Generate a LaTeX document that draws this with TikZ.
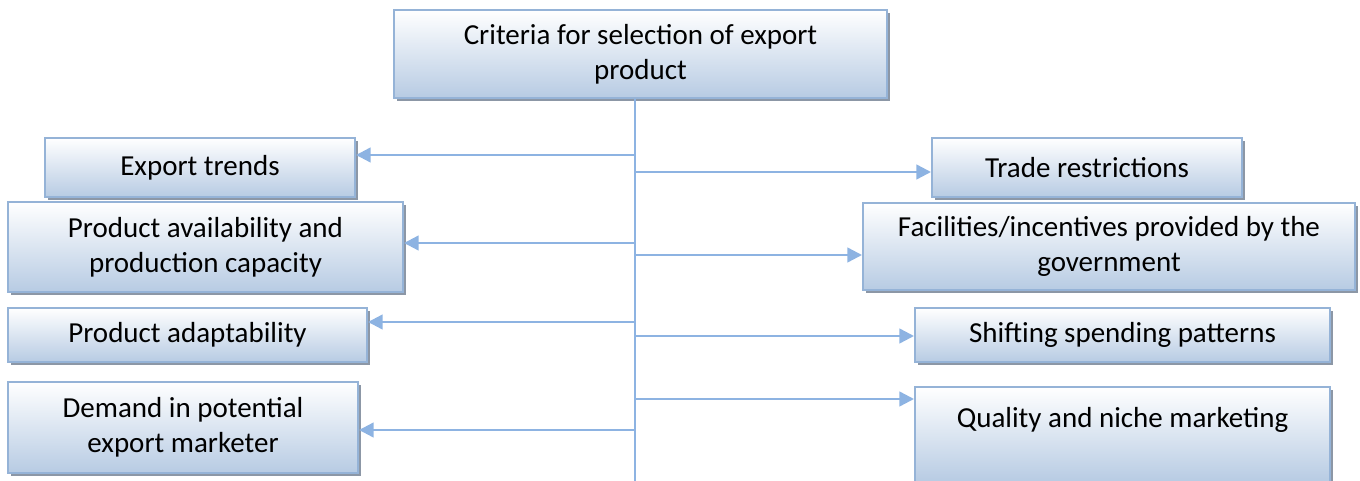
\documentclass[tikz,border=0pt]{standalone}
\usepackage{fontspec}
\setmainfont{Carlito}
\usetikzlibrary{arrows.meta, shadows}
\definecolor{cborder}{HTML}{95B3D7}
\definecolor{cfill}{HTML}{B7CBE3}
\definecolor{cshadow}{HTML}{8C97A6}
\definecolor{cline}{HTML}{8DB3E2}
\tikzset{
  every picture/.style={x=0.75pt, y=-0.75pt},
  box/.style={draw=cborder, line width=1.5pt, top color=white, bottom color=cfill,
    drop shadow={shadow xshift=2.25pt, shadow yshift=-2.25pt, fill=cshadow, opacity=1},
    align=center, inner sep=0pt, font=\fontsize{21.75}{26.25}\selectfont},
  link/.style={draw=cline, line width=1.8pt},
  arrow/.style={link, -{Triangle[length=11pt, width=11pt]}},
}
\begin{document}
\begin{tikzpicture}
  \useasboundingbox (0,0) rectangle (1360,481);
  \node[box, minimum width=369.75pt, minimum height=66pt] (crit) at (640.5,54) {Criteria for selection of export\\product};
  % left side
  \node[box, minimum width=232.5pt, minimum height=44.25pt] (trend) at (200,167.5) {Export trends};
  \node[box, minimum width=296.25pt, minimum height=67.5pt] (avail) at (205.5,247) {Product availability and\\production capacity};
  \node[box, minimum width=269.25pt, minimum height=40.5pt] (adapt) at (187.5,335) {Product adaptability};
  \node[box, minimum width=262.5pt, minimum height=68.25pt] (demand) at (183,427.5) {Demand in potential\\export marketer};
  % right side
  \node[box, minimum width=232.5pt, minimum height=44.25pt] (trade) at (1087,167.5) {Trade restrictions};
  \node[box, minimum width=369pt, minimum height=65.25pt] (incent) at (1109,246.5) {Facilities/incentives provided by the\\government};
  \node[box, minimum width=311.25pt, minimum height=40.5pt] (spend) at (1122.5,335) {Shifting spending patterns};
  \node[box, minimum width=311.25pt, minimum height=71.25pt] (niche) at (1122.5,434.5) {Quality and niche marketing\\\mbox{}};
  % trunk and branches
  \coordinate (trunk) at (635,481);
  \draw[link] (crit.south -| trunk) -- (trunk);
  \coordinate (l1) at (635,155);
  \coordinate (l2) at (635,243);
  \coordinate (l3) at (635,322);
  \coordinate (l4) at (635,430);
  \coordinate (r1) at (635,172);
  \coordinate (r2) at (635,255);
  \coordinate (r3) at (635,336);
  \coordinate (r4) at (635,399);
  \draw[arrow] (l1) -- (l1 -| trend.east);
  \draw[arrow] (l2) -- (l2 -| avail.east);
  \draw[arrow] (l3) -- (l3 -| adapt.east);
  \draw[arrow] (l4) -- (l4 -| demand.east);
  \draw[arrow] (r1) -- (r1 -| trade.west);
  \draw[arrow] (r2) -- (r2 -| incent.west);
  \draw[arrow] (r3) -- (r3 -| spend.west);
  \draw[arrow] (r4) -- (r4 -| niche.west);
\end{tikzpicture}
\end{document}
